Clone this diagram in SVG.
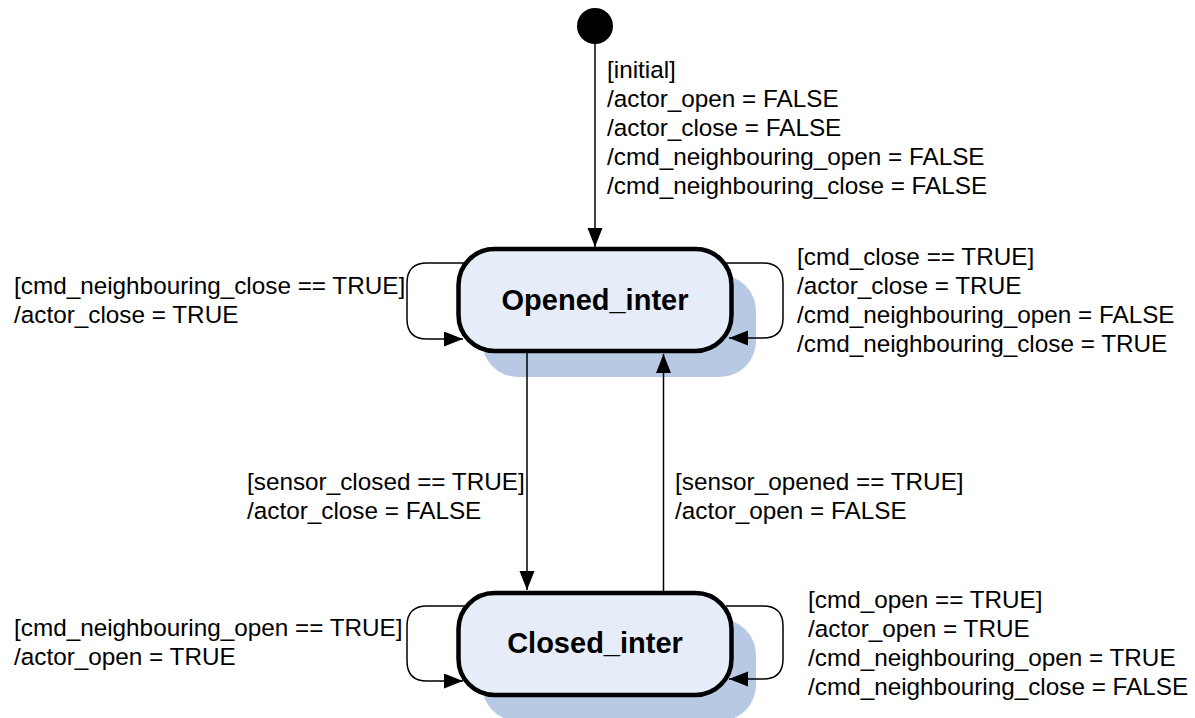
<svg xmlns="http://www.w3.org/2000/svg" width="1195" height="718" viewBox="0 0 1195 718">
<defs>
<marker id="arr" markerUnits="userSpaceOnUse" markerWidth="20" markerHeight="16" refX="19" refY="7.5" orient="auto">
<path d="M0,0 L19,7.5 L0,15 z" fill="#000"/>
</marker>
<style>
.lbl{font-family:"Liberation Sans",Arial,sans-serif;font-size:24.3px;fill:#000}
.name{font-family:"Liberation Sans",Arial,sans-serif;font-size:29px;font-weight:bold;fill:#000;text-anchor:middle}
.node{fill:#e6edf8;stroke:#000;stroke-width:4.5}
.shadow{fill:#b8cae3}
.edge{fill:none;stroke:#000;stroke-width:1.5;marker-end:url(#arr)}
</style>
</defs>
<rect width="1195" height="718" fill="#fff"/>
<g id="initial">
<circle cx="595" cy="26" r="18" fill="#000"/>
</g>
<g id="opened_inter">
<rect class="shadow" x="482" y="275" width="274" height="102" rx="36"/>
<rect class="node" x="458.5" y="249" width="273" height="102" rx="36"/>
<text class="name" x="595" y="310">Opened_inter</text>
</g>
<g id="closed_inter">
<rect class="shadow" x="482" y="619" width="274" height="102" rx="36"/>
<rect class="node" x="458.5" y="593" width="273" height="102" rx="36"/>
<text class="name" x="595" y="653">Closed_inter</text>
</g>
<g id="connectors">
<path class="edge" d="M595 44 L595 247"/>
<path class="edge" d="M527 353 L527 590"/>
<path class="edge" d="M663.5 591 L663.5 354"/>
<path class="edge" d="M465 263 L427 263 Q407 263 407 283 L407 319 Q407 339 427 339 L463 339"/>
<path class="edge" d="M726 263 L763 263 Q783 263 783 283 L783 318 Q783 338 763 338 L729 338"/>
<path class="edge" d="M465 606 L427 606 Q407 606 407 626 L407 661 Q407 681 427 681 L463 681"/>
<path class="edge" d="M726 606 L763 606 Q783 606 783 626 L783 659 Q783 679 763 679 L729 679"/>
</g>
<g id="labels">
<text class="lbl" x="607" y="78">[initial]</text>
<text class="lbl" x="607" y="107">/actor_open = FALSE</text>
<text class="lbl" x="607" y="136">/actor_close = FALSE</text>
<text class="lbl" x="607" y="165">/cmd_neighbouring_open = FALSE</text>
<text class="lbl" x="607" y="194">/cmd_neighbouring_close = FALSE</text>
<text class="lbl" x="14" y="294">[cmd_neighbouring_close == TRUE]</text>
<text class="lbl" x="14" y="323">/actor_close = TRUE</text>
<text class="lbl" x="797" y="265">[cmd_close == TRUE]</text>
<text class="lbl" x="797" y="294">/actor_close = TRUE</text>
<text class="lbl" x="797" y="323">/cmd_neighbouring_open = FALSE</text>
<text class="lbl" x="797" y="352">/cmd_neighbouring_close = TRUE</text>
<text class="lbl" x="247" y="490">[sensor_closed == TRUE]</text>
<text class="lbl" x="247" y="519">/actor_close = FALSE</text>
<text class="lbl" x="675" y="490">[sensor_opened == TRUE]</text>
<text class="lbl" x="675" y="519">/actor_open = FALSE</text>
<text class="lbl" x="14" y="636">[cmd_neighbouring_open == TRUE]</text>
<text class="lbl" x="14" y="665">/actor_open = TRUE</text>
<text class="lbl" x="808" y="608">[cmd_open == TRUE]</text>
<text class="lbl" x="808" y="637">/actor_open = TRUE</text>
<text class="lbl" x="808" y="666">/cmd_neighbouring_open = TRUE</text>
<text class="lbl" x="808" y="695">/cmd_neighbouring_close = FALSE</text>
</g>
</svg>
